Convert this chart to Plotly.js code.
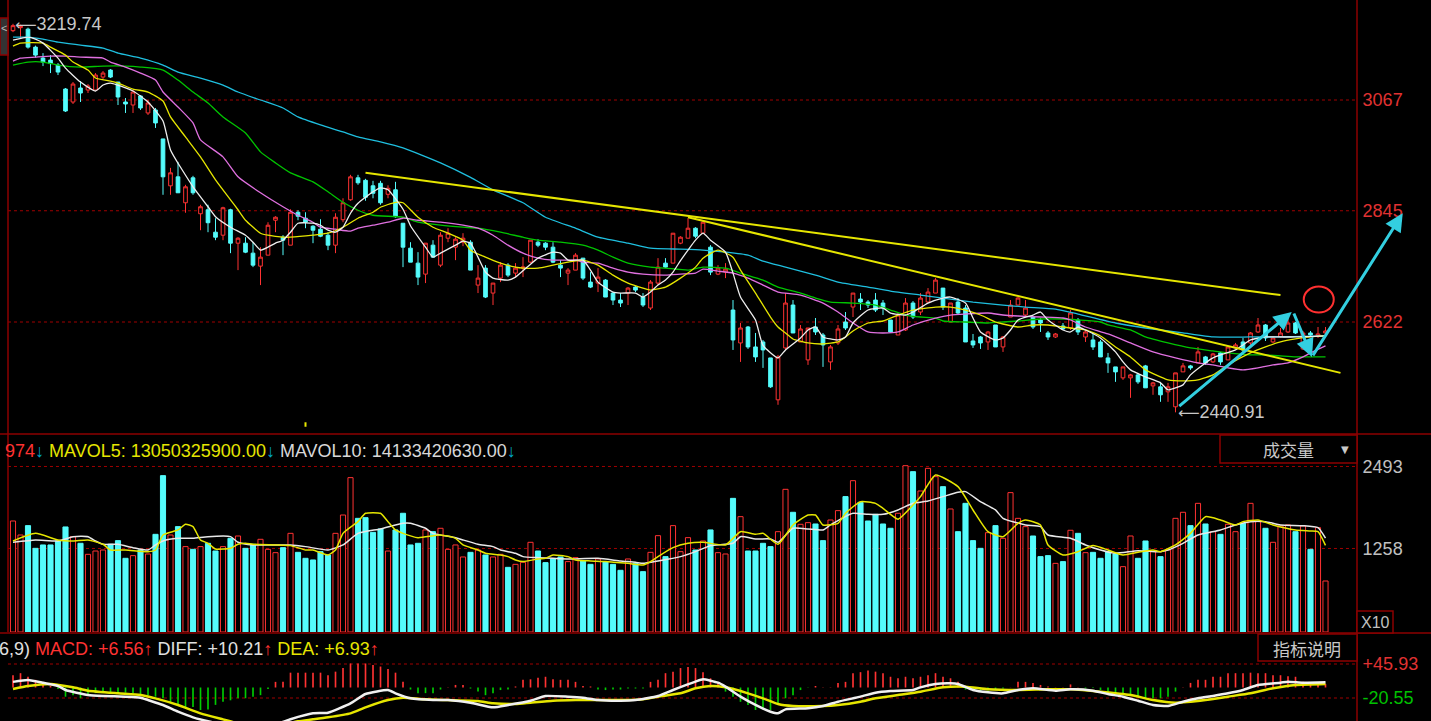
<!DOCTYPE html>
<html><head><meta charset="utf-8">
<script src="https://cdn.plot.ly/plotly-3.0.1.min.js"></script>
<style>html,body{margin:0;padding:0;background:#000;overflow:hidden}#chart{width:1431px;height:721px}</style>
</head><body><div id="chart"></div>
<script>
// ---------------- DATA ----------------
const openP = [
3206,3212,3209,3173,3151,3147,3137,3089,3063,3091,
3087,3087,3113,3127,3103,3063,3057,3075,3041,3047,
2989,2895,2913,2861,2911,2839,2847,2802,2796,2847,
2780,2780,2760,2734,2756,2826,2792,2776,2842,2830,
2814,2808,2796,2776,2827,2867,2911,2906,2895,2900,
2878,2887,2820,2770,2740,2718,2776,2736,2790,2772,
2782,2782,2696,2730,2680,2710,2736,2720,2730,2742,
2782,2780,2772,2736,2720,2726,2750,2702,2700,2706,
2680,2666,2680,2692,2672,2650,2700,2740,2740,2780,
2790,2810,2800,2772,2718,2722,2646,2580,2612,2572,
2582,2550,2466,2570,2656,2582,2546,2612,2596,2542,
2580,2622,2652,2668,2662,2666,2660,2626,2596,2606,
2660,2642,2662,2680,2690,2622,2662,2650,2584,2592,
2582,2616,2572,2632,2656,2636,2632,2626,2600,2592,
2614,2610,2626,2592,2586,2582,2550,2532,2510,2510,
2516,2534,2494,2492,2482,2452,2522,2534,2540,2552,
2542,2560,2546,2570,2582,2580,2602,2616,2582,2592,
2602,2620,2568,2600,2594,2600];
const closeP = [
3216,3215,3173,3157,3143,3140,3123,3045,3099,3081,
3095,3117,3121,3113,3073,3059,3083,3051,3061,3021,
2913,2921,2881,2893,2881,2853,2821,2792,2851,2780,
2790,2762,2736,2752,2816,2832,2786,2842,2834,2822,
2806,2794,2776,2832,2861,2913,2901,2872,2880,2861,
2890,2833,2772,2742,2712,2780,2752,2796,2800,2788,
2790,2726,2710,2672,2700,2736,2716,2730,2732,2786,
2776,2772,2742,2730,2726,2756,2710,2692,2712,2672,
2666,2660,2690,2686,2656,2702,2732,2732,2800,2792,
2810,2794,2822,2722,2730,2728,2586,2610,2572,2552,
2566,2492,2552,2660,2600,2608,2610,2602,2576,2572,
2608,2610,2680,2662,2656,2646,2650,2602,2636,2660,
2632,2670,2682,2706,2652,2660,2640,2582,2576,2580,
2602,2572,2592,2656,2670,2650,2612,2620,2592,2598,
2608,2640,2602,2602,2572,2552,2540,2522,2532,2516,
2502,2490,2500,2476,2492,2520,2534,2530,2562,2540,
2558,2542,2572,2576,2566,2600,2616,2590,2590,2600,
2620,2600,2600,2596,2598,2604];
const highP = [
3219.74,3218,3212,3176,3161,3157,3141,3091,3103,3105,
3099,3121,3125,3129,3103,3071,3087,3077,3067,3051,
2989,2931,2943,2897,2915,2857,2857,2830,2853,2849,
2792,2792,2782,2772,2822,2834,2796,2848,2846,2842,
2816,2828,2802,2840,2870,2917,2917,2909,2905,2905,
2896,2903,2820,2782,2762,2780,2786,2802,2810,2792,
2800,2786,2736,2736,2700,2742,2740,2740,2752,2786,
2788,2782,2782,2746,2730,2760,2750,2722,2730,2708,
2682,2680,2692,2694,2680,2706,2750,2750,2800,2794,
2830,2812,2824,2776,2736,2740,2666,2620,2614,2600,
2586,2550,2556,2680,2666,2616,2610,2630,2600,2576,
2616,2642,2680,2680,2666,2680,2666,2626,2640,2670,
2664,2680,2690,2710,2690,2660,2670,2656,2598,2594,
2604,2616,2594,2666,2672,2666,2634,2630,2604,2600,
2620,2646,2630,2606,2600,2586,2560,2532,2532,2518,
2520,2536,2502,2502,2500,2520,2540,2536,2572,2554,
2560,2562,2574,2580,2590,2602,2630,2618,2594,2610,
2630,2622,2604,2604,2612,2612];
const lowP = [
3203,3190,3170,3152,3135,3121,3117,3043,3059,3063,
3081,3087,3109,3111,3057,3041,3041,3047,3037,3011,
2877,2877,2881,2841,2877,2806,2802,2786,2786,2760,
2726,2760,2732,2696,2756,2802,2756,2776,2826,2810,
2780,2792,2766,2760,2822,2865,2897,2865,2870,2857,
2870,2831,2732,2742,2696,2700,2752,2732,2782,2746,
2774,2726,2680,2670,2656,2702,2712,2712,2712,2740,
2772,2766,2740,2712,2696,2726,2706,2690,2682,2672,
2656,2652,2656,2682,2652,2646,2696,2730,2740,2778,
2790,2790,2798,2716,2716,2710,2566,2542,2568,2542,
2530,2490,2456,2566,2600,2582,2536,2596,2532,2526,
2576,2606,2632,2646,2650,2642,2636,2600,2596,2604,
2628,2636,2660,2680,2646,2622,2636,2582,2570,2568,
2566,2572,2562,2632,2656,2632,2608,2602,2586,2590,
2606,2606,2596,2582,2566,2552,2520,2502,2506,2470,
2498,2490,2476,2462,2462,2440.91,2522,2526,2540,2536,
2540,2536,2546,2568,2562,2576,2600,2584,2580,2590,
2600,2598,2566,2594,2590,2596];
const volume = [
1672,1461,1602,1260,1311,1311,1371,1582,1436,1336,
1170,1220,1235,1321,1376,1110,1150,1235,1175,1471,
2355,1461,1587,1286,1245,1286,1336,1220,1286,1411,
1446,1260,1321,1396,1245,1195,1270,1486,1200,1110,
1085,1210,1160,1486,1762,2325,1712,1722,1501,1552,
1220,1537,1788,1311,1336,1537,1511,1562,1245,1311,
1130,1200,1235,1160,1130,1170,974,1019,1050,1351,
1220,1045,1100,1130,1060,1120,1070,1019,1100,1060,
1019,929,1100,1034,909,1200,1451,1135,1602,1210,
1421,1235,1371,1537,1195,1175,2013,1737,1220,1220,
1336,1286,1511,2149,1803,1622,1647,1627,1376,1687,
1828,2039,2279,1953,1672,1772,1627,1562,1788,2505,
2415,2124,2465,2340,2189,1853,1511,1938,1376,1260,
1496,1602,1411,2099,1712,1587,1446,1135,1150,1034,
1060,1532,1486,1195,1200,1110,1210,1175,984,1446,
1110,1371,1210,1135,1235,1712,1803,1602,1938,1627,
1511,1471,1622,1511,1637,1938,1662,1562,1351,1597,
1612,1511,1597,1245,1572,768];
const macdHist = [
24,28,21,15,8,3,-3,-18,-15,-21,
-15,-11,-10,-10,-11,-10,-11,-13,-15,-18,
-21,-28,-34,-39,-38,-44,-43,-34,-28,-25,
-21,-21,-18,-15,-3,11,11,29,29,29,
29,29,24,31,38,47,47,47,44,41,
36,29,11,-4,-11,-11,-11,-4,0.3,5,
5,-2,-8,-15,-11,-5,-4,2,15,16,
19,21,16,15,15,11,3,2,-4,-5,
-4,-4,-2,-2,-2,11,15,28,31,38,
40,38,30,18,10,-8,-18,-28,-34,-44,
-41,-44,-34,-21,-15,-5,-0.5,3,0.3,0.5,
9,11,28,30,33,31,28,21,18,21,
18,21,24,28,21,18,11,-4,-6,-8,
-6,-4,-2,0.3,11,11,9,5,2,0.5,
0.5,6,0.5,-2,-1,-5,-8,-10,-11,-15,
-17,-21,-21,-21,-18,-8,0.3,9,15,15,
21,21,28,28,28,29,28,28,24,24,
22,21,11,8,8,6.56];

// moving-average lines: [bar index, value]
const ma5 = [[0,3187],[2,3193],[3,3189],[4,3181],[6,3151],[7,3131],[9,3103],[11,3085],[12,3097],[13,3101],[16,3085],[18,3063],[20,3025],[21,2967],[24,2893],[25,2873],[26,2853],[27,2833],[29,2812],[31,2796],[32,2782],[33,2766],[34,2772],[35,2780],[36,2786],[37,2802],[38,2820],[40,2820],[41,2816],[42,2806],[43,2802],[44,2812],[45,2840],[46,2860],[48,2883],[49,2891],[50,2887],[52,2848],[53,2815],[55,2772],[56,2752],[57,2760],[59,2776],[60,2784],[61,2780],[62,2752],[63,2722],[64,2710],[66,2706],[67,2712],[69,2738],[70,2750],[72,2762],[73,2760],[74,2746],[76,2746],[77,2726],[78,2702],[80,2682],[81,2680],[83,2680],[84,2672],[85,2682],[86,2696],[87,2706],[88,2722],[89,2745],[90,2766],[91,2786],[92,2800],[93,2786],[95,2762],[96,2720],[97,2672],[99,2626],[100,2575],[102,2550],[103,2566],[105,2590],[106,2606],[107,2612],[108,2592],[110,2586],[111,2592],[112,2620],[114,2646],[116,2650],[117,2640],[119,2636],[120,2642],[122,2660],[124,2670],[125,2672],[127,2660],[128,2630],[129,2602],[131,2586],[132,2590],[133,2606],[134,2626],[136,2636],[137,2642],[138,2626],[140,2606],[141,2602],[142,2612],[143,2606],[145,2590],[147,2562],[148,2542],[149,2526],[151,2512],[153,2500],[154,2486],[155,2490],[156,2496],[157,2516],[159,2540],[160,2550],[161,2556],[163,2566],[164,2576],[165,2586],[167,2592],[169,2592],[171,2592],[175,2594]];
const ma10 = [[0,3175],[1,3181],[4,3181],[5,3173],[7,3157],[8,3143],[10,3127],[11,3111],[13,3105],[14,3101],[16,3089],[18,3083],[20,3065],[21,3033],[23,2993],[25,2953],[27,2907],[29,2867],[30,2847],[31,2826],[33,2800],[34,2796],[36,2792],[37,2792],[40,2796],[42,2800],[44,2812],[46,2830],[48,2842],[49,2852],[51,2862],[52,2861],[54,2832],[56,2812],[58,2800],[60,2786],[61,2766],[63,2752],[65,2740],[67,2732],[68,2730],[70,2730],[72,2736],[74,2742],[76,2746],[78,2736],[80,2716],[82,2700],[84,2690],[85,2686],[87,2692],[89,2710],[91,2732],[92,2750],[94,2766],[96,2752],[97,2726],[99,2680],[101,2632],[102,2612],[103,2600],[104,2588],[106,2580],[108,2578],[110,2582],[111,2592],[112,2604],[114,2620],[116,2624],[118,2636],[120,2646],[123,2652],[125,2652],[127,2646],[129,2636],[131,2622],[132,2618],[134,2612],[136,2616],[138,2616],[140,2612],[141,2610],[143,2606],[145,2594],[147,2572],[149,2552],[151,2526],[153,2512],[154,2506],[156,2504],[158,2506],[160,2516],[162,2536],[165,2560],[167,2572],[169,2582],[171,2588],[173,2592],[175,2594]];
const ma20 = [[0,3145],[1,3151],[3,3153],[5,3155],[7,3155],[9,3153],[12,3151],[13,3143],[15,3133],[17,3121],[19,3107],[20,3083],[22,3053],[24,3021],[25,2987],[28,2953],[30,2913],[33,2881],[36,2853],[38,2836],[40,2822],[41,2812],[43,2808],[45,2804],[46,2810],[48,2816],[50,2822],[52,2830],[54,2826],[57,2822],[60,2816],[62,2810],[64,2796],[66,2776],[68,2760],[70,2750],[72,2746],[75,2746],[76,2742],[78,2740],[80,2730],[82,2722],[84,2718],[87,2716],[89,2718],[91,2720],[92,2728],[94,2724],[96,2720],[98,2710],[100,2696],[102,2682],[105,2676],[108,2660],[110,2642],[112,2620],[114,2602],[116,2600],[118,2602],[120,2616],[123,2630],[125,2636],[127,2638],[130,2640],[132,2636],[134,2634],[137,2632],[140,2630],[141,2626],[143,2612],[146,2598],[149,2580],[152,2562],[155,2550],[158,2540],[160,2536],[162,2530],[164,2526],[166,2530],[168,2536],[170,2540],[172,2552],[173,2560],[175,2574]];
const ma30 = [[0,3137],[2,3143],[4,3143],[6,3137],[9,3133],[12,3135],[15,3135],[17,3133],[20,3127],[22,3107],[24,3083],[26,3061],[28,3033],[31,3001],[33,2963],[35,2941],[37,2921],[40,2903],[42,2883],[44,2862],[46,2846],[48,2836],[52,2832],[54,2822],[57,2816],[60,2812],[62,2810],[65,2802],[68,2792],[70,2786],[73,2782],[76,2776],[78,2766],[80,2752],[82,2740],[85,2732],[87,2730],[90,2726],[92,2732],[95,2730],[97,2720],[100,2706],[102,2692],[105,2680],[107,2670],[109,2662],[112,2660],[115,2656],[117,2646],[119,2636],[121,2632],[123,2630],[124,2624],[127,2622],[130,2620],[132,2622],[134,2624],[137,2628],[140,2628],[142,2626],[145,2622],[146,2616],[149,2606],[151,2592],[154,2580],[157,2570],[160,2564],[162,2560],[165,2556],[167,2556],[169,2554],[171,2552],[173,2552],[175,2552]];
const ma60 = [[0,3193],[2,3193],[4,3189],[6,3183],[9,3177],[12,3171],[14,3161],[17,3151],[20,3137],[22,3123],[25,3111],[28,3097],[30,3083],[33,3067],[36,3051],[38,3033],[41,3017],[44,3003],[46,2993],[49,2983],[52,2971],[57,2941],[61,2912],[64,2887],[68,2861],[71,2832],[75,2810],[78,2792],[82,2780],[85,2770],[89,2768],[92,2766],[95,2762],[98,2756],[100,2744],[103,2732],[107,2716],[110,2702],[114,2692],[117,2684],[121,2676],[124,2670],[128,2662],[132,2656],[135,2652],[139,2648],[142,2638],[147,2620],[151,2610],[156,2600],[160,2592],[165,2592],[169,2592],[175,2594]];
const mavol5 = [[0,1371],[3,1486],[6,1386],[8,1371],[10,1386],[12,1321],[13,1235],[15,1235],[18,1210],[19,1235],[20,1461],[22,1537],[23,1622],[24,1587],[25,1386],[26,1336],[27,1250],[29,1260],[30,1321],[31,1336],[32,1321],[35,1311],[37,1301],[39,1235],[40,1235],[42,1160],[43,1235],[44,1486],[46,1662],[47,1788],[49,1788],[50,1662],[51,1537],[52,1486],[54,1421],[57,1461],[59,1411],[60,1311],[62,1235],[63,1185],[65,1160],[66,1135],[67,1085],[68,1060],[70,1100],[71,1110],[72,1160],[74,1135],[75,1085],[77,1070],[79,1060],[82,1034],[84,1009],[85,1060],[86,1135],[88,1270],[90,1336],[92,1351],[95,1311],[97,1511],[99,1471],[100,1486],[102,1321],[104,1612],[106,1762],[107,1762],[108,1612],[110,1637],[111,1788],[113,1963],[115,1938],[116,1863],[118,1700],[120,1913],[121,2039],[123,2365],[126,2189],[128,1838],[130,1511],[132,1436],[134,1637],[135,1687],[137,1612],[138,1311],[140,1160],[142,1210],[144,1301],[146,1235],[148,1160],[150,1200],[152,1235],[153,1210],[155,1311],[157,1486],[159,1737],[161,1687],[163,1612],[164,1662],[166,1687],[168,1612],[171,1537],[173,1521],[174,1511],[175,1305]];
const mavol10 = [[0,1351],[3,1386],[6,1371],[8,1436],[10,1436],[11,1371],[12,1321],[14,1321],[16,1270],[18,1235],[19,1311],[20,1371],[22,1411],[24,1411],[26,1436],[29,1436],[30,1351],[32,1311],[37,1311],[39,1286],[42,1235],[44,1311],[46,1486],[49,1552],[52,1637],[53,1637],[55,1562],[56,1486],[59,1421],[60,1386],[62,1321],[64,1286],[65,1235],[67,1185],[68,1135],[70,1120],[72,1110],[74,1100],[78,1110],[81,1070],[83,1050],[84,1034],[86,1070],[89,1135],[91,1210],[93,1301],[96,1336],[97,1436],[99,1401],[101,1401],[102,1351],[104,1562],[106,1552],[108,1537],[109,1612],[112,1788],[114,1772],[116,1772],[118,1838],[120,1938],[122,1973],[124,2039],[126,2104],[127,2114],[129,1963],[131,1838],[132,1712],[135,1612],[137,1587],[138,1461],[141,1411],[143,1311],[145,1235],[147,1185],[150,1225],[153,1210],[154,1235],[156,1336],[158,1461],[161,1537],[163,1612],[165,1662],[167,1662],[169,1612],[172,1602],[174,1572],[175,1413]];
const diffLine = [[0,11],[2,14.6],[4,9.4],[6,2.9],[7,-4.9],[10,-14.7],[12,-16.6],[15,-17.9],[17,-19.9],[18,-24.5],[20,-34.2],[22,-47.3],[24,-58.3],[26,-66],[28,-72],[31,-76],[35,-72],[37,-62],[40,-50.5],[42,-49.2],[45,-31],[47,-12.7],[50,-4.9],[51,-11.4],[53,-21.2],[56,-24.5],[58,-24.5],[61,-29.7],[64,-38.8],[66,-34.2],[69,-25.8],[71,-16.6],[74,-17.9],[76,-19.9],[78,-24.5],[81,-25.8],[83,-24.5],[86,-16.6],[88,-4.9],[91,11.4],[92,16],[94,9.4],[95,1.6],[97,-17.9],[99,-34.2],[101,-47.3],[102,-50.5],[103,-42.7],[106,-40.7],[108,-36.2],[110,-27.7],[113,-17.9],[115,-10.1],[117,-6.9],[120,-4.9],[121,0.3],[123,6.8],[125,8.1],[126,6.8],[128,-4.9],[130,-9.5],[132,-11.4],[134,-4.9],[136,-1.6],[139,-6.2],[141,-3.6],[144,-6.2],[146,-12.7],[148,-17.9],[150,-25.8],[152,-34.2],[154,-36.2],[156,-27.7],[158,-21.2],[160,-16.6],[162,-11.4],[164,-4.9],[166,4.9],[169,9.4],[170,11.4],[172,9.4],[175,10.21]];
const deaLine = [[0,-3],[2,2.9],[5,6.8],[8,0.3],[10,-6.2],[14,-11.4],[17,-14.7],[19,-21.2],[22,-34.2],[25,-50.5],[28,-62.3],[30,-70],[35,-75],[38,-66],[40,-62.3],[42,-58.3],[45,-50.5],[47,-38.8],[50,-24.5],[52,-19.9],[55,-23.2],[58,-24.5],[62,-26.4],[64,-31],[67,-32.3],[69,-29.7],[72,-25.8],[75,-24.5],[78,-24.5],[81,-24.5],[84,-23.2],[86,-17.9],[89,-11.4],[91,-1.6],[93,2.9],[95,0.3],[98,-11.4],[100,-21.2],[102,-32.3],[104,-36.2],[108,-36.2],[110,-34.2],[113,-27.7],[115,-21.2],[118,-14.7],[121,-8.2],[124,0.3],[127,1.6],[130,-3.6],[134,-4.9],[138,-3.6],[141,-3.6],[145,-8.2],[149,-14.7],[152,-24.5],[155,-29.7],[159,-24.5],[162,-17.9],[165,-11.4],[168,-1.6],[171,4.9],[175,6.93]];

// axis labels
const priceTicks = [2622, 2845, 3067];
const volTicks = [1258, 2493];
const macdTicks = [-20.55, 45.93];
const mavolText = ['13050325900.00', '14133420630.00'];

// hand-drawn overlays (bar index, price)
const trendLines = [[47, 2921, 169, 2676], [90, 2832, 177, 2520]];
const drawnArrows = [[155.3, 2451, 170.5, 2642], [170.7, 2642, 173.2, 2552], [173.2, 2552, 185.3, 2840]];
const circleMark = [174.1, 2667, 2.0, 26];

// ---------------- DRAW ----------------
const W = 1431, H = 721;
const RED = '#ff3232', CYAN = '#54fcfc', DRED = '#8c0000', GRID = '#a00000';
const FONT = 'Liberation Sans, Arial, sans-serif';
const idx = openP.map((_, i) => i);
const isUp = openP.map((o, i) => closeP[i] >= o);

const px = x => x / W, py = y => 1 - y / H;
const col = (pairs, k) => pairs.map(p => p[k]);

function lineTrace(pairs, color, width, yaxis) {
  return {type: 'scatter', mode: 'lines', x: col(pairs, 0), y: col(pairs, 1), yaxis: yaxis,
    line: {color: color, width: width, shape: 'spline', smoothing: 0.5}, hoverinfo: 'skip'};
}

const traces = [
  {type: 'candlestick', x: idx, open: openP, high: highP, low: lowP, close: closeP,
   xaxis: 'x', yaxis: 'y', whiskerwidth: 0,
   increasing: {line: {color: RED, width: 1}, fillcolor: '#000000'},
   decreasing: {line: {color: CYAN, width: 1}, fillcolor: CYAN}, hoverinfo: 'skip'},
  lineTrace(ma60, '#1fbfdf', 1.3, 'y'),
  lineTrace(ma30, '#00c400', 1.3, 'y'),
  lineTrace(ma20, '#e070e0', 1.3, 'y'),
  lineTrace(ma10, '#e6e600', 1.3, 'y'),
  lineTrace(ma5, '#eeeeee', 1.3, 'y'),
  {type: 'bar', x: idx, y: volume, yaxis: 'y2', width: 0.68,
   marker: {color: isUp.map(u => u ? '#000000' : CYAN), line: {color: isUp.map(u => u ? RED : CYAN), width: 1}},
   hoverinfo: 'skip'},
  lineTrace(mavol10, '#e8e8e8', 1.5, 'y2'),
  lineTrace(mavol5, '#e6e600', 1.5, 'y2'),
  {type: 'bar', x: idx, y: macdHist, yaxis: 'y3', width: 0.22,
   marker: {color: macdHist.map(v => v >= 0 ? RED : '#00cc00'), line: {width: 0}}, hoverinfo: 'skip'},
  lineTrace(deaLine, '#e6e600', 2.5, 'y3'),
  lineTrace(diffLine, '#f0f0f0', 2.5, 'y3')
];

const yBase = {anchor: 'free', position: 1357 / W, side: 'right', showgrid: false, zeroline: false,
  showline: false, ticks: 'outside', ticklen: 1, tickcolor: 'rgba(0,0,0,0)', fixedrange: true};

const shapes = [];
function gridAt(axis, v) {
  shapes.push({type: 'line', xref: 'x', yref: axis, x0: -0.67, x1: (1357 - 13) / 7.5, y0: v, y1: v,
    line: {color: GRID, width: 1, dash: 'dot'}, layer: 'below'});
}
priceTicks.forEach(v => gridAt('y', v));
volTicks.forEach(v => gridAt('y2', v));
macdTicks.forEach(v => gridAt('y3', v));
function pline(x0, y0, x1, y1, color, width) {
  shapes.push({type: 'line', xref: 'paper', yref: 'paper', x0: px(x0), x1: px(x1), y0: py(y0), y1: py(y1),
    line: {color: color, width: width}});
}
function prect(x0, y0, x1, y1, line, fill) {
  shapes.push({type: 'rect', xref: 'paper', yref: 'paper', x0: px(x0), x1: px(x1), y0: py(y1), y1: py(y0),
    line: {color: line, width: 1.5}, fillcolor: fill});
}
pline(1357, 0, 1357, 721, DRED, 1.5);
pline(8, 0, 8, 632, DRED, 1.5);
pline(0, 434, 1431, 434, DRED, 1.5);
pline(0, 633, 1431, 633, DRED, 1.5);
prect(1220, 435, 1357, 463, DRED, '#000000');
prect(1357, 611, 1393, 633, DRED, '#000000');
prect(1258, 634, 1357, 661, DRED, '#000000');
prect(0, 18, 8, 55, DRED, '#333333');
trendLines.forEach(t => shapes.push({type: 'line', xref: 'x', yref: 'y', x0: t[0], y0: t[1], x1: t[2], y1: t[3],
  line: {color: '#e6e600', width: 2}}));
shapes.push({type: 'circle', xref: 'x', yref: 'y', x0: circleMark[0] - circleMark[2], x1: circleMark[0] + circleMark[2],
  y0: circleMark[1] - circleMark[3], y1: circleMark[1] + circleMark[3], line: {color: '#ff3030', width: 2}});
shapes.push({type: 'line', xref: 'x', yref: 'y', x0: 39, x1: 39, y0: 2412, y1: 2421, line: {color: '#e6e600', width: 2}});

const hiI = highP.indexOf(Math.max(...highP));
const loI = lowP.indexOf(Math.min(...lowP));
const last = a => a[a.length - 1];
const sgn = v => (v >= 0 ? '+' : '') + v.toFixed(2);
const span = (c, t) => '<span style="color:' + c + '">' + t + '</span>';
const longArrow = c => '<span style="color:' + c + ';font-family:DejaVu Sans;font-size:15px">⟵</span>';

const annotations = [
  {xref: 'x', yref: 'y', x: hiI, y: highP[hiI], text: longArrow('#c8c8c8') + highP[hiI].toFixed(2), showarrow: false,
   xanchor: 'left', yanchor: 'middle', xshift: 0, font: {family: FONT, size: 18, color: '#c8c8c8'}},
  {xref: 'x', yref: 'y', x: loI, y: lowP[loI], text: longArrow('#c8c8c8') + lowP[loI].toFixed(2), showarrow: false,
   xanchor: 'left', yanchor: 'middle', xshift: 0, font: {family: FONT, size: 18, color: '#c8c8c8'}},
  {xref: 'paper', yref: 'paper', x: px(3), y: py(451), xanchor: 'left', yanchor: 'middle', showarrow: false,
   font: {family: FONT, size: 18},
   text: span(RED, '974') + span('#00a8c8', '↓') + ' ' + span('#e6e600', 'MAVOL5: ' + mavolText[0]) + span('#00a8c8', '↓') +
         ' ' + span('#d8d8d8', 'MAVOL10: ' + mavolText[1]) + span('#00a8c8', '↓')},
  {xref: 'paper', yref: 'paper', x: px(-3), y: py(649), xanchor: 'left', yanchor: 'middle', showarrow: false,
   font: {family: FONT, size: 18},
   text: span('#e0e0e0', '6,9)') + ' ' + span(RED, 'MACD: ' + sgn(last(macdHist)) + '↑') + ' ' +
         span('#e0e0e0', 'DIFF: ' + sgn(last(diffLine)[1])) + span(RED, '↑') + ' ' +
         span('#e6e600', 'DEA: ' + sgn(last(deaLine)[1])) + span(RED, '↑')},
  {xref: 'paper', yref: 'paper', x: px(1288), y: py(450), xanchor: 'center', yanchor: 'middle', showarrow: false,
   text: '成交量', font: {family: 'Noto Sans CJK SC', size: 17, color: '#c8c8c8'}},
  {xref: 'paper', yref: 'paper', x: px(1345), y: py(450), xanchor: 'center', yanchor: 'middle', showarrow: false,
   text: '▼', font: {family: 'DejaVu Sans', size: 10, color: '#c8c8c8'}},
  {xref: 'paper', yref: 'paper', x: px(1375), y: py(622), xanchor: 'center', yanchor: 'middle', showarrow: false,
   text: 'X10', font: {family: FONT, size: 16, color: '#c0c0c0'}},
  {xref: 'paper', yref: 'paper', x: px(1307), y: py(648), xanchor: 'center', yanchor: 'middle', showarrow: false,
   text: '指标说明', font: {family: 'Noto Sans CJK SC', size: 17, color: '#c8c8c8'}},
  {xref: 'paper', yref: 'paper', x: px(4), y: py(28), xanchor: 'center', yanchor: 'middle', showarrow: false,
   text: '<', font: {family: FONT, size: 11, color: '#bbbbbb'}}
];
drawnArrows.forEach(a => annotations.push({xref: 'x', yref: 'y', axref: 'x', ayref: 'y', x: a[2], y: a[3], ax: a[0], ay: a[1],
  text: '', showarrow: true, arrowhead: 2, arrowsize: 1.2, arrowwidth: 3, arrowcolor: '#33cfe0', standoff: 0}));

const layout = {
  width: W, height: H, margin: {l: 0, r: 0, t: 0, b: 0}, paper_bgcolor: '#000000', plot_bgcolor: '#000000',
  showlegend: false, hovermode: false, dragmode: false,
  xaxis: {domain: [0, 1], range: [-13 / 7.5, (W - 13) / 7.5], visible: false, fixedrange: true, rangeslider: {visible: false}},
  yaxis: Object.assign({}, yBase, {domain: [1 - 433 / H, 1], range: [2399.5, 3267.45], tickvals: priceTicks,
    ticktext: priceTicks.map(String), tickfont: {family: FONT, size: 18, color: '#e03232'}}),
  yaxis2: Object.assign({}, yBase, {domain: [1 - 632 / H, 1 - 436 / H], range: [0, 2952], tickvals: volTicks,
    ticktext: volTicks.map(String), tickfont: {family: FONT, size: 18, color: '#c0c0c0'}}),
  yaxis3: Object.assign({}, yBase, {domain: [0, 1 - 635 / H], range: [-65.5, 102.65], tickvals: macdTicks,
    ticktext: macdTicks.map(v => span(v >= 0 ? '#e03232' : '#00c000', sgn(v))), tickfont: {family: FONT, size: 18, color: '#c0c0c0'}}),
  shapes: shapes, annotations: annotations
};

Plotly.newPlot('chart', traces, layout, {staticPlot: true, displayModeBar: false});
</script></body></html>
